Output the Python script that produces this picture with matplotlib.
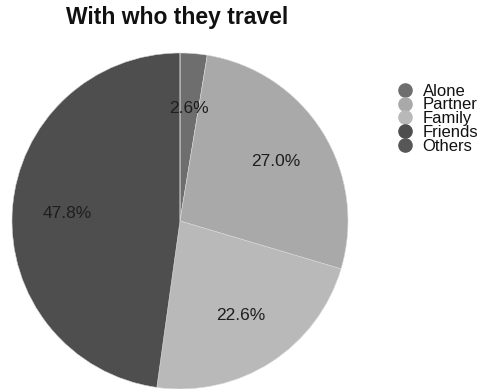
import matplotlib
matplotlib.use("Agg")
import matplotlib.pyplot as plt

plt.rcParams['font.family'] = ['Liberation Sans', 'DejaVu Sans']

categories = ["Alone", "Partner", "Family", "Friends", "Others"]
values = [2.6, 27.0, 22.6, 47.8, 0.0]
colors = ["#6e6e6e", "#a9a9a9", "#b9b9b9", "#4e4e4e", "#575757"]

fig = plt.figure(figsize=(4.85, 3.89), dpi=100)
ax = fig.add_axes([0.0247, 0.0, 0.6928, 0.8638])

def fmt(p):
    return f"{p:.1f}%" if p > 0.05 else ""

wedges, texts, autotexts = ax.pie(values, colors=colors, startangle=90, counterclock=False,
                                  autopct=fmt, pctdistance=0.67,
                                  wedgeprops=dict(edgecolor="#d8d8d8", linewidth=0.4),
                                  textprops=dict(fontsize=12.5, color="#1e1e1e"))
ax.set_xlim(-1, 1)
ax.set_ylim(-1, 1)
ax.set_aspect('equal')

fig.text(0.366, 0.954, "With who they travel", ha='center', va='center',
         fontsize=16.5, fontweight='bold', color='#111111')

handles = [plt.Line2D([], [], marker='o', linestyle='', markersize=9.5,
                      markerfacecolor=c, markeredgecolor=c) for c in colors]
leg = fig.legend(handles, categories, loc='upper left', bbox_to_anchor=(0.820, 0.785),
                 frameon=False, fontsize=12, labelspacing=-0.07, handletextpad=0.65,
                 handlelength=0.85, borderaxespad=0, borderpad=0)
for t in leg.get_texts():
    t.set_color('#111111')

fig.savefig("out.png", dpi=100)
